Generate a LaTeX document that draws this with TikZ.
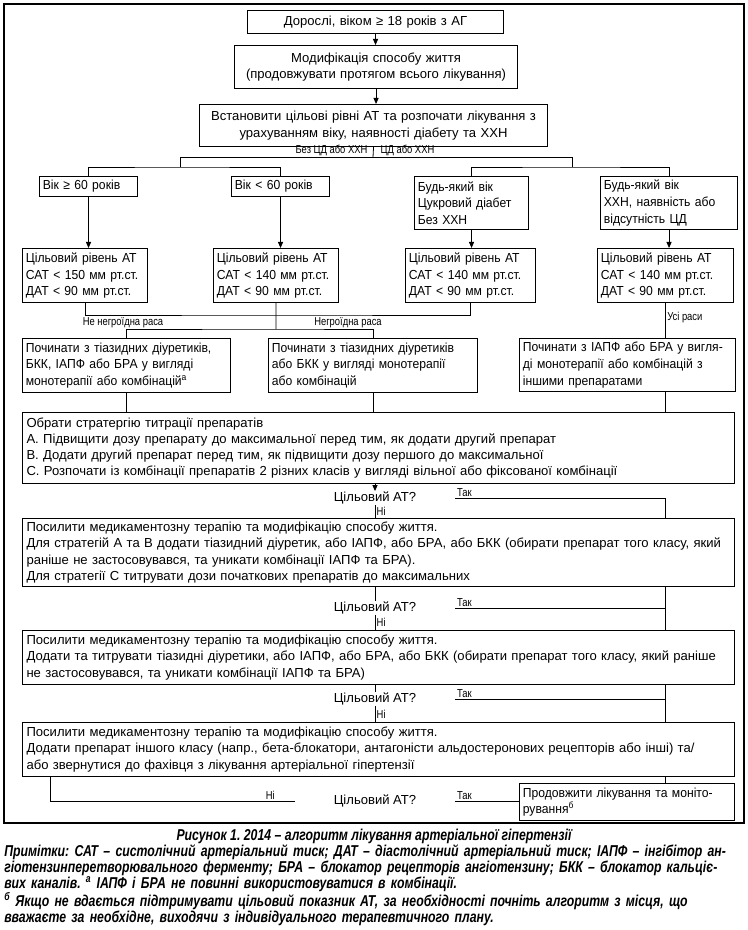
\documentclass[tikz,border=0pt]{standalone}
\usepackage{fontspec}
\setmainfont{Liberation Sans}
\newfontfamily\condfont{Liberation Sans}[FakeStretch=0.82]
\newfontfamily\boxfont{Liberation Sans}[FakeStretch=0.93]
\newfontfamily\notefont{Liberation Sans}[FakeStretch=0.78]
\usetikzlibrary{arrows.meta}
\tikzset{
  bx/.style={draw=black,fill=white,line width=0.8pt,anchor=north west,inner xsep=3pt,inner ysep=1pt,
    align=left,font=\fontsize{9.8}{12.2}\selectfont},
  cbx/.style={bx,align=center},
  sbx/.style={bx,inner xsep=2.5pt,font=\boxfont\fontsize{9.8}{12.6}\selectfont},
  ln/.style={draw=black,line width=0.6pt},
  arr/.style={ln,-{Triangle[length=4.5pt,width=3.8pt]}},
  tag/.style={font=\condfont\fontsize{8.6}{9}\selectfont,inner sep=1pt},
  ask/.style={font=\fontsize{9.8}{12}\selectfont,minimum width=120pt,minimum height=10pt,inner sep=0pt},
}
\tikzset{note/.style={font=\notefont\bfseries\itshape\fontsize{11.8}{12}\selectfont\frenchspacing,inner sep=0pt}}

\begin{document}
\begin{tikzpicture}[x=0.75pt,y=-0.75pt]
\useasboundingbox (0,0) rectangle (748,930);
\draw[line width=0.8pt] (4,4) rectangle (744,823);
% top of the algorithm
\node[cbx,text width=186pt,minimum height=17.25pt] (b1) at (247,10) {Дорослі, віком ≥ 18 років з АГ};
\node[cbx,text width=206.25pt,minimum height=32.25pt] (b2) at (234,45) {Модифікація способу життя\\(продовжувати протягом всього лікування)};
\node[cbx,text width=255pt,minimum height=31.5pt] (b3) at (199,104) {Встановити цільові рівні АТ та розпочати лікування з\\урахуванням віку, наявності діабету та ХХН};
\node[sbx,text width=68.5pt,minimum height=15pt] (r1a) at (39,176) {Вік ≥ 60 років};
\node[sbx,text width=68.5pt,minimum height=15pt] (r1b) at (231,176) {Вік < 60 років};
\node[sbx,text width=80.5pt,minimum height=39.75pt] (r1c) at (414,176) {Будь-який вік\\Цукровий діабет\\Без ХХН};
\node[sbx,text width=97.75pt,minimum height=39.75pt] (r1d) at (600,176) {Будь-який вік\\ХХН, наявність або\\відсутність ЦД};
% target levels
\node[sbx,text width=88.75pt,minimum height=40.5pt] (r2a) at (22,248) {Цільовий рівень АТ\\САТ < 150 мм рт.ст.\\ДАТ < 90 мм рт.ст.};
\node[sbx,text width=88.75pt,minimum height=40.5pt] (r2b) at (213,248) {Цільовий рівень АТ\\САТ < 140 мм рт.ст.\\ДАТ < 90 мм рт.ст.};
\node[sbx,text width=92.5pt,minimum height=40.5pt] (r2c) at (405,248) {Цільовий рівень АТ\\САТ < 140 мм рт.ст.\\ДАТ < 90 мм рт.ст.};
\node[sbx,text width=97pt,minimum height=40.5pt] (r2d) at (597,248) {Цільовий рівень АТ\\САТ < 140 мм рт.ст.\\ДАТ < 90 мм рт.ст.};
% first drugs
\node[sbx,text width=151pt,minimum height=40.5pt] (r3a) at (22,338) {Починати з тіазидних діуретиків,\\БКК, ІАПФ або БРА у вигляді\\монотерапії або комбінацій\textsuperscript{а}};
\node[sbx,text width=151.75pt,minimum height=40.5pt] (r3b) at (268,338) {Починати з тіазидних діуретиків\\або БКК у вигляді монотерапії\\або комбінацій};
\node[sbx,text width=157pt,minimum height=39.75pt] (r3c) at (519,338) {Починати з ІАПФ або БРА у вигля-\\ді монотерапії або комбінацій з\\іншими препаратами};
\node[bx,text width=528pt,minimum height=53.25pt] (strat) at (22,412) {Обрати стратергію титрації препаратів\\А. Підвищити дозу препарату до максимальної перед тим, як додати другий препарат\\В. Додати другий препарат перед тим, як підвищити дозу першого до максимальної\\С. Розпочати із комбінації препаратів 2 різних класів у вигляді вільної або фіксованої комбінації};
\node[bx,text width=528pt,minimum height=51pt] (p1) at (22,518) {Посилити медикаментозну терапію та модифікацію способу життя.\\Для стратегій А та В додати тіазидний діуретик, або ІАПФ, або БРА, або БКК (обирати препарат того класу, який\\раніше не застосовувався, та уникати комбінації ІАПФ та БРА).\\Для стратегії С титрувати дози початкових препаратів до максимальних};
\node[bx,text width=528pt,minimum height=40.5pt] (p2) at (22,630) {Посилити медикаментозну терапію та модифікацію способу життя.\\Додати та титрувати тіазидні діуретики, або ІАПФ, або БРА, або БКК (обирати препарат того класу, який раніше\\не застосовувався, та уникати комбінації ІАПФ та БРА)};
\node[bx,text width=528pt,minimum height=40.5pt] (p3) at (22,722) {Посилити медикаментозну терапію та модифікацію способу життя.\\Додати препарат іншого класу (напр., бета-блокатори, антагоністи альдостеронових рецепторів або інші) та/\\або звернутися до фахівця з лікування артеріальної гіпертензії};
\node[sbx,text width=156.25pt,minimum height=27.75pt] (fin) at (519,783) {Продовжити лікування та моніто-\\рування\textsuperscript{б}};
\node[ask] (q1) at (375,498) {Цільовий АТ?};
\node[ask] (q2) at (375,608) {Цільовий АТ?};
\node[ask] (q3) at (375,699) {Цільовий АТ?};
\node[ask] (q4) at (375,801) {Цільовий АТ?};
% connectors
\coordinate (s0) at (373,157);
\coordinate (sl) at (180,157);
\coordinate (sr) at (572,157);
\coordinate (sl2) at (180,167);
\coordinate (sr2) at (572,167);
\coordinate (m1) at (276,315);
\coordinate (m2) at (276,329);
\coordinate (bus) at (665,0);
\coordinate (back) at (50,0);
\draw[arr] (b1.south) -- (b1.south |- b2.north);
\draw[arr] (b2.south) -- (b2.south |- b3.north);
\draw[ln] (b3.south) -- (s0);
\draw[ln] (sl) -- (sr);
\draw[ln] (sl) -- (sl2);
\draw[ln] (sr) -- (sr2);
\draw[ln] (r1a.north) |- (sl2) -| (r1b.north);
\draw[ln] (r1c.north) |- (sr2) -| (r1d.north);
\node[tag,anchor=east] (t1) at (369,150) {Без ЦД або ХХН};
\node[tag,anchor=west] (t2) at (379,150) {ЦД або ХХН};
\foreach \a/\b in {r1a/r2a,r1b/r2b,r1c/r2c,r1d/r2d}
  \draw[arr] (\a.south) -- (\a.south |- \b.north);
\draw[ln] (r2a.south) |- (m1) -| (r2c.south);
\draw[ln] (r2b.south) -- (m2);
\draw[ln] (r3a.north) |- (m2) -| (r3b.north);
\node[tag] (t3) at (123,323) {Не негроїдна раса};
\node[tag] (t4) at (348,323) {Негроїдна раса};
\draw[ln] (r2d.south) -- node[tag,right,pos=0.4] (t5) {Усі раси} (r2d.south |- r3c.north);
\draw[ln] (r3a.south) -- (r3a.south |- strat.north);
\draw[ln] (r3b.south) -- (r3b.south |- strat.north);
\draw[ln] (r3c.south -| bus) -- (bus |- strat.north);
\draw[arr] (q1.north |- strat.south) -- (q1.north);
% yes / no
\draw[ln] (q1.south) -- node[tag,right] (n1) {Ні} (q1.south |- p1.north);
\draw[ln] (p1.south -| q2.north) -- (q2.north);
\draw[ln] (q2.south) -- node[tag,right] (n2) {Ні} (q2.south |- p2.north);
\draw[ln] (p2.south -| q3.north) -- (q3.north);
\draw[ln] (q3.south) -- node[tag,right] (n3) {Ні} (q3.south |- p3.north);
\draw[ln] (q1.east) node[tag,above right] (y1) {Так} -- (q1.east -| bus) -- (bus |- p1.north);
\draw[ln] (p1.south -| bus) -- (bus |- p2.north);
\draw[ln] (q2.east) node[tag,above right] (y2) {Так} -- (q2.east -| bus);
\draw[ln] (p2.south -| bus) -- (bus |- p3.north);
\draw[ln] (q3.east) node[tag,above right] (y3) {Так} -- (q3.east -| bus);
\draw[ln] (p3.south -| bus) -- (bus |- fin.north);
\draw[ln] (q4.east) node[tag,above right] (y4) {Так} -- (q4.east -| fin.west);
\draw[ln] (back |- p3.south) |- (q4.west) node[tag,above,pos=0.95] (n4) {Ні};
% caption
\node[note] (cap) at (374,836) {Рисунок 1. 2014 – алгоритм лікування артеріальної гіпертензії};
\node[note,anchor=north west,text width=555pt,align=left] (notes) at (4,844) {%
\makebox[\linewidth][s]{Примітки: САТ – систолічний артеріальний тиск; ДАТ – діастолічний артеріальний тиск; ІАПФ – інгібітор ан-}\\
\makebox[\linewidth][s]{гіотензинперетворювального ферменту; БРА – блокатор рецепторів ангіотензину; БКК – блокатор кальціє-}\\
вих каналів. \textsuperscript{а} ІАПФ і БРА не повинні використовуватися в комбінації.\\
\makebox[\linewidth][s]{\textsuperscript{б} Якщо не вдається підтримувати цільовий показник АТ, за необхідності почніть алгоритм з місця, що}\\
вважаєте за необхідне, виходячи з індивідуального терапевтичного плану.};
\end{tikzpicture}
\end{document}
